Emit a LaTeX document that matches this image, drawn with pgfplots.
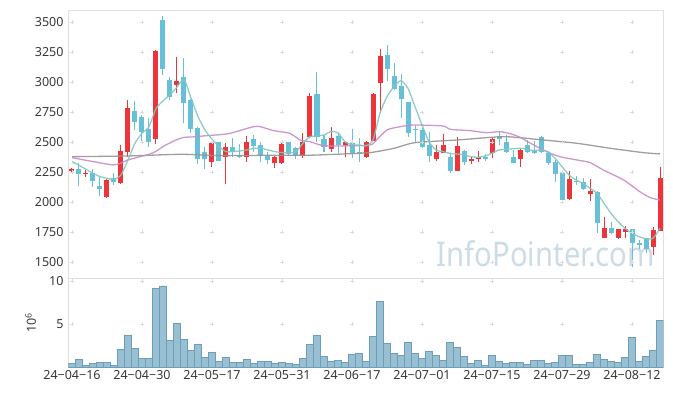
\documentclass[border=0pt]{standalone}
\usepackage{pgfplots}
\pgfplotsset{compat=1.18}
\usepackage{pgfplotstable}
\usepackage{graphicx}
\usepackage{fontspec}
\setmainfont{Noto Sans}
\definecolor{cup}{RGB}{236,52,58}
\definecolor{cdown}{RGB}{104,192,216}
\definecolor{mafive}{RGB}{128,200,190}
\definecolor{matwenty}{RGB}{200,140,200}
\definecolor{masixty}{RGB}{148,148,148}
\definecolor{volfill}{RGB}{152,192,210}
\definecolor{voledge}{RGB}{108,158,184}
\definecolor{framec}{RGB}{224,224,224}
\definecolor{gridc}{RGB}{220,220,220}
\definecolor{wm}{RGB}{203,220,231}

\pgfplotstableread{
i o h l c
0 2261 2289 2250 2275
2 2236 2269 2214 2247
5 2047 2194 2039 2186
7 2164 2478 2153 2428
8 2422 2853 2380 2783
12 2530 3269 2483 3261
15 2978 3214 2908 3011
20 2339 2505 2297 2497
22 2380 2492 2153 2464
25 2380 2556 2339 2503
29 2325 2389 2283 2378
30 2325 2492 2319 2483
33 2389 2575 2367 2500
34 2547 2914 2533 2886
37 2447 2625 2422 2536
39 2480 2505 2375 2503
42 2380 2511 2372 2500
43 2514 2908 2508 2903
44 2997 3275 2747 3219
52 2361 2478 2347 2417
53 2414 2567 2408 2478
55 2264 2547 2258 2469
57 2347 2380 2317 2364
58 2358 2431 2339 2380
60 2414 2533 2367 2528
64 2361 2440 2292 2436
71 2028 2264 2019 2194
74 2069 2192 2014 2097
76 1705 1880 1700 1783
78 1703 1780 1697 1778
79 1755 1803 1700 1778
83 1630 1797 1561 1769
84 1764 2297 1761 2200
}\upT

\pgfplotstableread{
i o h l c
1 2275 2325 2136 2239
3 2244 2275 2125 2180
4 2136 2214 2053 2114
6 2200 2242 2144 2167
9 2761 2844 2603 2672
10 2711 2728 2514 2589
11 2611 2700 2464 2503
13 3519 3553 3061 3114
14 3019 3047 2853 2880
16 3047 3200 2658 2830
17 2853 2858 2575 2611
18 2619 2625 2319 2361
19 2417 2458 2275 2361
21 2503 2505 2342 2347
23 2461 2533 2380 2422
24 2394 2483 2367 2380
26 2528 2561 2422 2472
27 2478 2505 2339 2389
28 2389 2422 2317 2356
31 2500 2505 2389 2403
32 2453 2464 2358 2389
35 2903 3086 2505 2547
36 2528 2561 2422 2464
38 2553 2575 2414 2478
40 2492 2611 2367 2414
41 2419 2533 2339 2408
45 3228 3311 3014 3111
46 3053 3158 2936 2942
47 2969 3069 2700 2858
48 2833 2836 2547 2575
49 2614 2644 2505 2603
50 2603 2617 2450 2458
51 2478 2589 2333 2389
54 2380 2403 2242 2264
56 2425 2436 2311 2339
59 2380 2403 2344 2358
61 2553 2583 2478 2525
62 2506 2561 2414 2422
63 2380 2436 2325 2330
65 2478 2520 2408 2422
66 2436 2511 2403 2414
67 2542 2553 2414 2422
68 2414 2422 2311 2325
69 2339 2353 2172 2236
70 2247 2250 2016 2019
72 2180 2222 2144 2167
73 2172 2200 2103 2111
75 2089 2092 1742 1825
77 1783 1839 1736 1742
80 1778 1780 1464 1658
81 1658 1686 1608 1647
82 1700 1706 1575 1614
}\downT

\pgfplotstableread{
i v
0 0.39
1 0.89
2 0.19
3 0.43
4 0.54
5 0.54
6 0.19
7 2.05
8 3.68
9 2.17
10 1.01
11 1.01
12 9.15
13 9.42
14 3.10
15 5.08
16 3.22
17 1.94
18 2.64
19 1.12
20 1.71
21 0.66
22 1.12
23 0.54
24 0.54
25 0.89
26 0.43
27 0.66
28 0.66
29 0.47
30 0.54
31 0.43
32 0.31
33 1.01
34 2.64
35 3.68
36 1.24
37 0.70
38 0.80
39 0.54
40 1.47
41 1.59
42 0.66
43 3.57
44 7.64
45 2.75
46 1.59
47 1.36
48 2.87
49 1.59
50 1.01
51 1.82
52 1.36
53 0.78
54 2.87
55 2.29
56 1.24
57 0.43
58 0.78
59 0.19
60 1.36
61 0.66
62 0.43
63 0.54
64 0.54
65 0.31
66 0.78
67 0.78
68 0.43
69 0.54
70 1.36
71 1.36
72 0.31
73 0.31
74 0.54
75 1.47
76 0.89
77 0.66
78 0.54
79 1.12
80 3.45
81 0.66
82 1.24
83 1.94
84 5.43
}\volT

\begin{document}
\begin{tikzpicture}
\useasboundingbox (-68.5pt,10pt) rectangle (604.5pt,-386pt);
\pgfplotsset{
  every axis/.append style={
    scale only axis,
    width=595pt,
    xmin=-0.5, xmax=84.5,
    axis line style={draw=framec, line width=0.8pt},
    major tick length=0pt,
    tick label style={font=\fontsize{12.5}{14}\selectfont, text=black!78},
    yticklabel style={xshift=-1.5pt},
    /pgf/number format/assume math mode=true,
    clip=true,
  },
  candle/.style={draw=none, mark=none, forget plot,
    error bars/.cd, y dir=plus, y explicit, error mark=none},
}
% ---------------- price panel ----------------
\begin{axis}[
  at={(0pt,0pt)}, anchor=north west,
  height=268pt,
  ymin=1369, ymax=3602.5,
  ytick={1500,1750,2000,2250,2500,2750,3000,3250,3500},
  xtick={0,10,...,80}, xticklabels={},
  scaled y ticks=false,
  yticklabel style={/pgf/number format/.cd, 1000 sep={}},
]
\node[anchor=base, text=wm, font=\fontsize{34}{34}\selectfont] at (axis cs:67.7,1463) {\scalebox{0.86}[1]{InfoPointer.com}};
% grid crosses
\addplot[only marks, mark=+, mark size=1.8pt, gridc, line width=0.6pt, forget plot] coordinates {
(0,1500)(10,1500)(20,1500)(30,1500)(40,1500)(50,1500)(60,1500)(70,1500)(80,1500)
(0,1750)(10,1750)(20,1750)(30,1750)(40,1750)(50,1750)(60,1750)(70,1750)(80,1750)
(0,2000)(10,2000)(20,2000)(30,2000)(40,2000)(50,2000)(60,2000)(70,2000)(80,2000)
(0,2250)(10,2250)(20,2250)(30,2250)(40,2250)(50,2250)(60,2250)(70,2250)(80,2250)
(0,2500)(10,2500)(20,2500)(30,2500)(40,2500)(50,2500)(60,2500)(70,2500)(80,2500)
(0,2750)(10,2750)(20,2750)(30,2750)(40,2750)(50,2750)(60,2750)(70,2750)(80,2750)
(0,3000)(10,3000)(20,3000)(30,3000)(40,3000)(50,3000)(60,3000)(70,3000)(80,3000)
(0,3250)(10,3250)(20,3250)(30,3250)(40,3250)(50,3250)(60,3250)(70,3250)(80,3250)
(0,3500)(10,3500)(20,3500)(30,3500)(40,3500)(50,3500)(60,3500)(70,3500)(80,3500)
};
% wicks
\addplot[candle, error bar style={draw=cup, line width=1pt}]
  table[x=i, y=l, y error plus expr=\thisrow{h}-\thisrow{l}] {\upT};
\addplot[candle, error bar style={draw=cdown, line width=1pt}]
  table[x=i, y=l, y error plus expr=\thisrow{h}-\thisrow{l}] {\downT};
% bodies
\addplot[candle, error bar style={draw=cup, line width=5pt}]
  table[x=i, y=o, y error plus expr=\thisrow{c}-\thisrow{o}] {\upT};
\addplot[candle, error bar style={draw=cdown, line width=5pt}]
  table[x=i, y=c, y error plus expr=\thisrow{o}-\thisrow{c}] {\downT};
% moving averages
\addplot[masixty, line width=1.3pt, opacity=0.9, smooth, tension=0.4, mark=none] coordinates {
(0,2380)(8,2386)(15.6,2400)(21,2389)(29,2392)(33.8,2392)(38.8,2403)(42.6,2414)(46,2450)(49,2497)(55,2519)(60,2542)(62.6,2545)(67.4,2519)(72.1,2492)(76.9,2450)(81.6,2414)(84,2403)
};
\addplot[matwenty, line width=1.3pt, opacity=0.9, smooth, tension=0.4, mark=none] coordinates {
(0,2372)(3,2339)(5.9,2311)(6.9,2325)(8,2353)(11,2400)(12,2425)(13,2464)(14.5,2510)(15.9,2540)(17.3,2545)(19.2,2555)(21,2563)(22.6,2575)(25.9,2630)(26.9,2630)(28.8,2597)(31.1,2575)(32.6,2519)(34,2505)(35.9,2472)(38.8,2470)(42.6,2478)(43.5,2520)(45,2603)(46.9,2630)(48.8,2644)(53,2636)(54,2608)(56.9,2597)(59.2,2580)(61.1,2589)(62.6,2572)(64,2542)(65.4,2495)(67.8,2422)(69.7,2380)(72.1,2353)(74,2331)(75.9,2269)(78.8,2186)(81.1,2089)(82.6,2039)(84,2019)
};
\addplot[mafive, line width=1.3pt, opacity=0.9, smooth, tension=0.4, mark=none] coordinates {
(0,2339)(1,2308)(2,2275)(3,2242)(4,2214)(5,2200)(6,2192)(7,2228)(8,2353)(9,2492)(10,2575)(11,2630)(12,2780)(13,2845)(14,2895)(15,2960)(16,3025)(17,2870)(18,2714)(19,2603)(20,2525)(21,2464)(22,2422)(23,2422)(24,2428)(25,2436)(26,2450)(27,2450)(28,2436)(29,2422)(30,2414)(31,2414)(32,2422)(33,2492)(34,2547)(35,2553)(36,2561)(37,2589)(38,2580)(39,2505)(40,2478)(41,2478)(42,2470)(43,2519)(44,2742)(45,2880)(46,2964)(47,3014)(48,2950)(49,2797)(50,2644)(51,2505)(52,2436)(53,2422)(54,2408)(55,2403)(56,2394)(57,2380)(58,2375)(59,2386)(60,2408)(61,2436)(62,2442)(63,2446)(64,2450)(65,2442)(66,2431)(67,2436)(68,2422)(69,2367)(70,2297)(71,2228)(72,2186)(73,2158)(74,2117)(75,2075)(76,1992)(77,1908)(78,1839)(79,1783)(80,1742)(81,1714)(82,1697)(83,1700)(84,1783)
};
\end{axis}
% ---------------- volume panel ----------------
\begin{axis}[
  at={(0pt,-268pt)}, anchor=north west,
  height=89pt,
  ymin=0, ymax=10.35,
  ytick={5,10},
  xtick={0,10,...,80},
  xticklabels={24−04−16,24−04−30,24−05−17,24−05−31,24−06−17,24−07−01,24−07−15,24−07−29,24−08−12},
  ylabel={10\textsuperscript{6}},
  ylabel style={at={(axis description cs:-0.0635,0.5)}, anchor=center, font=\fontsize{12.5}{14}\selectfont, text=black!78},
]
\addplot[only marks, mark=+, mark size=1.8pt, gridc, line width=0.6pt, forget plot] coordinates {
(0,5)(10,5)(20,5)(30,5)(40,5)(50,5)(60,5)(70,5)(80,5)
(0,10)(10,10)(20,10)(30,10)(40,10)(50,10)(60,10)(70,10)(80,10)
};
\addplot[ybar, bar width=7pt, fill=volfill, draw=voledge, line width=0.6pt] table[x=i, y=v] {\volT};
\end{axis}
\end{tikzpicture}
\end{document}
